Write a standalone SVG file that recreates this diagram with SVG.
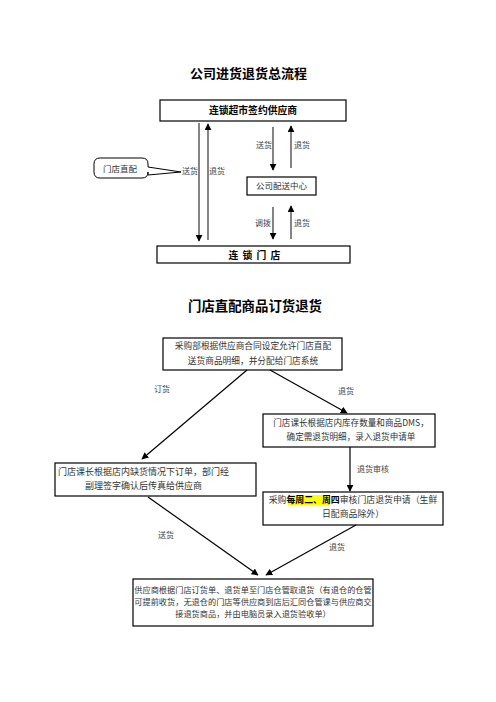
<svg xmlns="http://www.w3.org/2000/svg" width="496" height="702" viewBox="0 0 496 702">
<defs>
<marker id="ah" viewBox="0 0 10 10" refX="9" refY="5" markerWidth="7" markerHeight="7" markerUnits="userSpaceOnUse" orient="auto">
<path d="M0,0 L10,5 L0,10 Z" fill="#000"/>
</marker>
<style>
.t{font-family:"Noto Sans CJK SC","Noto Sans",sans-serif;fill:#000}
.title{font-size:13px;font-weight:bold;text-anchor:middle}
.hb{font-size:9.8px;font-weight:bold;text-anchor:middle}
.lb{font-size:8px;fill:#444;text-anchor:middle}
.bx{font-size:8.7px;fill:#333;text-anchor:middle}
.box{fill:#fff;stroke:#000;stroke-width:1.2}
.ln{stroke:#000;stroke-width:1.2;fill:none;marker-end:url(#ah)}
.vl{stroke:#333;stroke-width:1.2;fill:none;marker-end:url(#ah)}
</style>
</defs>
<rect width="496" height="702" fill="#fff"/>

<text class="t title" x="248.5" y="78">公司进货退货总流程</text>

<g id="supplier">
<rect class="box" x="160" y="100" width="186" height="21"/>
<text class="t hb" x="253" y="114">连锁超市签约供应商</text>
</g>
<g id="callout">
<path d="M100,158 H142 Q148,158 148,164 V167 L181,172 L148,175 V172 Q148,178 142,178 H100 Q94,178 94,172 V164 Q94,158 100,158 Z" fill="#fff" stroke="#000" stroke-width="1"/>
<text class="t bx" x="120" y="172" style="font-size:8.5px">门店直配</text>
</g>
<g id="dc">
<rect class="box" x="247" y="177" width="69" height="18"/>
<text class="t bx" x="281.5" y="189" style="font-size:8.5px">公司配送中心</text>
</g>
<g id="store">
<rect class="box" x="157" y="246" width="193" height="17"/>
<text class="t hb" x="255" y="258.5" letter-spacing="1">连 锁 门 店</text>
</g>

<g id="top-connectors">
<line class="vl" x1="199" y1="123" x2="199" y2="241"/>
<line class="vl" x1="208" y1="240" x2="208" y2="124"/>
<line class="vl" x1="273" y1="127" x2="273" y2="170"/>
<line class="vl" x1="291" y1="168" x2="291" y2="126"/>
<line class="vl" x1="273" y1="207" x2="273" y2="239"/>
<line class="vl" x1="291" y1="239" x2="291" y2="206"/>
<text class="t lb" x="190" y="174">送货</text>
<text class="t lb" x="217" y="174">退货</text>
<text class="t lb" x="264" y="148">送货</text>
<text class="t lb" x="302" y="148">退货</text>
<text class="t lb" x="263" y="226">调拨</text>
<text class="t lb" x="302" y="226">退货</text>
</g>

<text class="t title" x="255" y="311" style="font-size:13.4px">门店直配商品订货退货</text>

<g id="boxA">
<rect class="box" x="163" y="338" width="179" height="32"/>
<text class="t bx" x="253" y="349">采购部根据供应商合同设定允许门店直配</text>
<text class="t bx" x="253" y="364">送货商品明细，并分配给门店系统</text>
</g>
<g id="boxB">
<rect class="box" x="55" y="463" width="201" height="33"/>
<text class="t bx" x="143.5" y="475" style="font-size:9px">门店课长根据店内缺货情况下订单，部门经</text>
<text class="t bx" x="143.5" y="489" style="font-size:9px">副理签字确认后传真给供应商</text>
</g>
<g id="boxC">
<rect class="box" x="263" y="414" width="172" height="33"/>
<text class="t bx" x="351" y="426" style="font-size:8.6px">门店课长根据店内库存数量和商品DMS，</text>
<text class="t bx" x="351" y="440" style="font-size:8.6px">确定需退货明细，录入退货申请单</text>
</g>
<g id="boxD">
<rect class="box" x="263" y="492" width="180" height="33"/>
<rect x="288" y="495" width="42" height="10" fill="#ffff00"/>
<text class="t bx" x="353" y="503" style="font-size:8.9px">采购<tspan font-weight="bold" fill="#000">每周二、周四</tspan>审核门店退货申请（生鲜</text>
<text class="t bx" x="353" y="517" style="font-size:8.9px">日配商品除外）</text>
</g>
<g id="boxE">
<rect class="box" x="133" y="579" width="240" height="47"/>
<text class="t bx" x="253" y="593" style="font-size:8.2px">供应商根据门店订货单、退货单至门店仓管取退货（有退仓的仓管</text>
<text class="t bx" x="253" y="605" style="font-size:8.2px">可提前收货，无退仓的门店等供应商到店后汇同仓管课与供应商交</text>
<text class="t bx" x="253" y="617" style="font-size:8.2px">接退货商品，并由电脑员录入退货验收单）</text>
</g>

<g id="connectors">
<line class="ln" x1="247" y1="370" x2="142" y2="459"/>
<line class="ln" x1="270" y1="370" x2="347" y2="413"/>
<line class="ln" x1="350" y1="447" x2="350" y2="491"/>
<line class="ln" x1="148" y1="497" x2="258" y2="575"/>
<line class="ln" x1="356" y1="525" x2="266" y2="575"/>
<text class="t lb" x="162" y="392">订货</text>
<text class="t lb" x="346" y="394">退货</text>
<text class="t lb" x="373" y="472">退货审核</text>
<text class="t lb" x="166" y="538">送货</text>
<text class="t lb" x="337" y="550">退货</text>
</g>
</svg>
